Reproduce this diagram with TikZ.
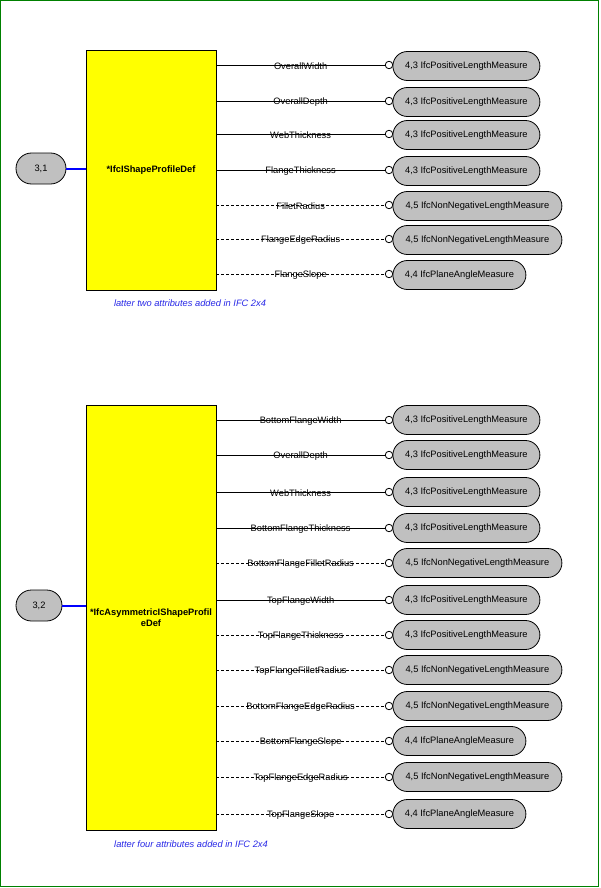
\documentclass[tikz,border=0pt]{standalone}
\usepackage{fontspec}
\usetikzlibrary{shapes.misc}
\setmainfont{Liberation Sans}
\definecolor{frame}{RGB}{0,128,0}
\definecolor{boxyellow}{RGB}{255,255,0}
\definecolor{ovalgray}{RGB}{192,192,192}
\definecolor{linkblue}{RGB}{0,0,255}
\definecolor{notecol}{RGB}{40,40,230}
\begin{document}
\begin{tikzpicture}[x=1pt,y=-1pt,
  every node/.style={font=\fontsize{9.3}{10.5}\selectfont},
  classbox/.style={draw=black, line width=0.8pt, fill=boxyellow, minimum width=130pt, inner sep=0pt, align=center, font=\fontsize{9.3}{11}\selectfont\bfseries},
  refoval/.style={draw=black, line width=0.8pt, fill=ovalgray, rounded rectangle, minimum height=31pt, inner sep=0pt},
  measure/.style={draw=black, line width=0.8pt, fill=ovalgray, rounded rectangle, minimum height=29pt, inner sep=0pt, anchor=west},
  endcirc/.style={draw=black, line width=0.8pt, fill=white, circle, minimum size=7.5pt, inner sep=0pt},
  attr/.style={draw=black, line width=0.8pt},
  opt/.style={attr, dash pattern=on 3pt off 2pt},
  man/.style={attr},
  attrlabel/.style={midway, yshift=-1pt, inner sep=0pt, text=black},
  link/.style={draw=linkblue, line width=2pt},
  note/.style={text=notecol, font=\fontsize{9.3}{10.5}\selectfont\itshape}
]
\useasboundingbox (0,0) rectangle (600,888);
\draw[frame, line width=1pt] (0.8,0.8) rectangle (598,886.5);

% ---------- top block ----------
\node[classbox, minimum height=240pt] (c1) at (151,170) {*IfcIShapeProfileDef};
\node[refoval, minimum width=50pt] (o1) at (41,168.5) {3,1};
\draw[link] (o1.east) -- (o1.east -| c1.west);

\foreach \y/\lab/\w/\txt/\st [count=\i] in {
  65/OverallWidth/147/{4,3 IfcPositiveLengthMeasure}/man,
  101/OverallDepth/147/{4,3 IfcPositiveLengthMeasure}/man,
  134/WebThickness/147/{4,3 IfcPositiveLengthMeasure}/man,
  170/FlangeThickness/147/{4,3 IfcPositiveLengthMeasure}/man,
  205/FilletRadius/169/{4,5 IfcNonNegativeLengthMeasure}/opt,
  239/FlangeEdgeRadius/169/{4,5 IfcNonNegativeLengthMeasure}/opt,
  274/FlangeSlope/133/{4,4 IfcPlaneAngleMeasure}/opt}{
  \node[endcirc] (ta\i) at (389,\y) {};
  \node[measure, minimum width=\w pt] (tm\i) at (392.5,\y+1) {\txt};
  \draw[\st] (c1.east |- ta\i) -- (ta\i.west) node[attrlabel] {\lab};
}
\node[note] (n1) at (190,303) {latter two attributes added in IFC 2x4};

% ---------- bottom block ----------
\node[classbox, minimum height=425pt] (c2) at (151,617.5) {*IfcAsymmetricIShapeProfil\\eDef};
\node[refoval, minimum width=46pt] (o2) at (39,605.5) {3,2};
\draw[link] (o2.east) -- (o2.east -| c2.west);

\foreach \y/\lab/\w/\txt/\st [count=\i] in {
  420/BottomFlangeWidth/147/{4,3 IfcPositiveLengthMeasure}/man,
  455/OverallDepth/147/{4,3 IfcPositiveLengthMeasure}/man,
  492/WebThickness/147/{4,3 IfcPositiveLengthMeasure}/man,
  528/BottomFlangeThickness/147/{4,3 IfcPositiveLengthMeasure}/man,
  563/BottomFlangeFilletRadius/169/{4,5 IfcNonNegativeLengthMeasure}/opt,
  600/TopFlangeWidth/147/{4,3 IfcPositiveLengthMeasure}/man,
  635/TopFlangeThickness/147/{4,3 IfcPositiveLengthMeasure}/opt,
  670/TopFlangeFilletRadius/169/{4,5 IfcNonNegativeLengthMeasure}/opt,
  706/BottomFlangeEdgeRadius/169/{4,5 IfcNonNegativeLengthMeasure}/opt,
  741/BottomFlangeSlope/133/{4,4 IfcPlaneAngleMeasure}/opt,
  777/TopFlangeEdgeRadius/169/{4,5 IfcNonNegativeLengthMeasure}/opt,
  814/TopFlangeSlope/133/{4,4 IfcPlaneAngleMeasure}/opt}{
  \node[endcirc] (ba\i) at (389,\y) {};
  \node[measure, minimum width=\w pt] (bm\i) at (392.5,\y) {\txt};
  \draw[\st] (c2.east |- ba\i) -- (ba\i.west) node[attrlabel] {\lab};
}
\node[note] (n2) at (191,844) {latter four attributes added in IFC 2x4};
\end{tikzpicture}
\end{document}
